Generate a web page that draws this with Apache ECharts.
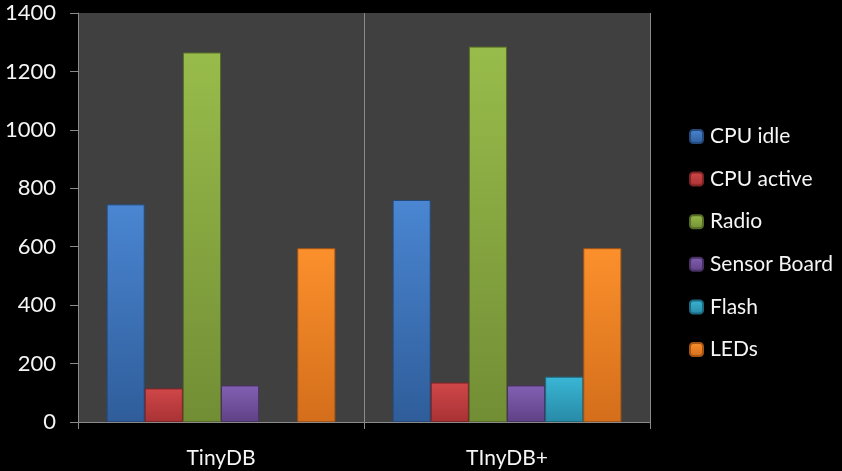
<!DOCTYPE html>
<html>
<head>
<meta charset="utf-8">
<script src="https://cdn.jsdelivr.net/npm/echarts@6/dist/echarts.min.js"></script>
<style>
  html, body { margin: 0; padding: 0; background: #000; }
  #chart { width: 842px; height: 471px; }
</style>
</head>
<body>
<div id="chart"></div>
<script>
// data
const categories = ['TinyDB', 'TInyDB+'];
const cpuIdle = [745, 760];
const cpuActive = [115, 135];
const radio = [1265, 1285];
const sensorBoard = [125, 125];
const flash = [null, 155];
const leds = [595, 595];

// top colour, bottom colour, edge colour
const seriesDefs = [
  { name: 'CPU idle', data: cpuIdle, colors: ['#4a86d2', '#2f5d9a', '#24497a'] },
  { name: 'CPU active', data: cpuActive, colors: ['#d04749', '#a83234', '#7e2426'] },
  { name: 'Radio', data: radio, colors: ['#98bc4b', '#728e35', '#566c27'] },
  { name: 'Sensor Board', data: sensorBoard, colors: ['#8260b2', '#5f4186', '#483264'] },
  { name: 'Flash', data: flash, colors: ['#3ab6d6', '#278aa6', '#1d6a80'] },
  { name: 'LEDs', data: leds, colors: ['#fb902c', '#d46e1b', '#a45414'] }
];

const FONT = 'Lato';
const chart = echarts.init(document.getElementById('chart'));

chart.setOption({
  backgroundColor: '#000',
  animation: false,
  grid: { left: 78, right: 192, top: 13, bottom: 49, show: true, backgroundColor: '#404040', borderWidth: 0 },
  legend: {
    orient: 'vertical',
    left: 689, top: 126, padding: 0,
    itemWidth: 13, itemHeight: 13, itemGap: 21.6,
    textStyle: { color: '#f5f5f5', fontSize: 21, fontFamily: FONT, lineHeight: 19, padding: [0, 0, 0, 2] },
    data: seriesDefs.map(s => ({
      name: s.name,
      itemStyle: {
        color: new echarts.graphic.LinearGradient(0, 0, 0, 1, [
          { offset: 0, color: s.colors[0] }, { offset: 1, color: s.colors[1] }
        ])
      }
    }))
  },
  xAxis: {
    type: 'category',
    data: categories,
    axisLine: { lineStyle: { color: '#8a8a8a', width: 1 } },
    axisTick: { show: true, length: 7, lineStyle: { color: '#8a8a8a' } },
    axisLabel: { color: '#f5f5f5', fontSize: 21, fontFamily: FONT, margin: 26 },
    splitLine: { show: true, lineStyle: { color: '#8a8a8a', width: 1 } }
  },
  yAxis: {
    type: 'value',
    min: 0, max: 1400, interval: 200,
    axisLine: { show: true, lineStyle: { color: '#8a8a8a', width: 1 } },
    axisTick: { show: true, length: 8, lineStyle: { color: '#8a8a8a' } },
    axisLabel: { color: '#f5f5f5', fontSize: 22, fontFamily: FONT, margin: 22, formatter: v => String(v) },
    splitLine: { show: false }
  },
  series: seriesDefs.map(s => ({
    name: s.name,
    type: 'bar',
    data: s.data,
    barGap: '0%',
    barCategoryGap: '20%',
    itemStyle: {
      borderColor: s.colors[2],
      borderWidth: 1,
      color: new echarts.graphic.LinearGradient(0, 0, 0, 1, [
        { offset: 0, color: s.colors[0] },
        { offset: 1, color: s.colors[1] }
      ])
    }
  }))
});
</script>
</body>
</html>
